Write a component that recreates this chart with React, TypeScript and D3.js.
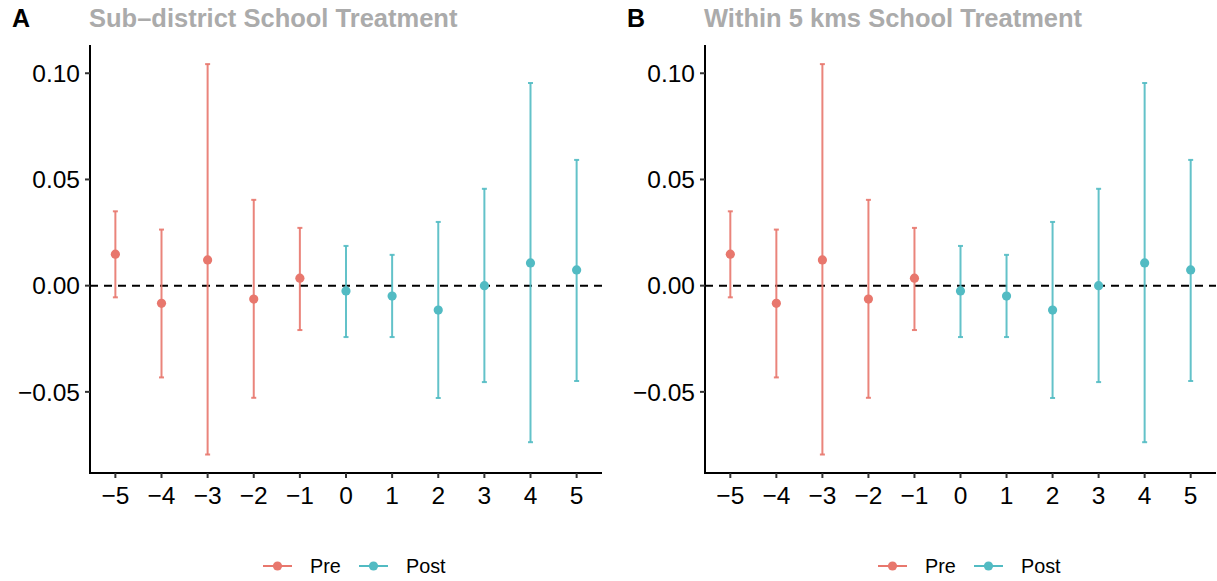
import React from "react";
import * as d3 from "d3";

// event-study estimates
const periods = [-5, -4, -3, -2, -1, 0, 1, 2, 3, 4, 5];
const estimate = [0.0148, -0.0083, 0.0121, -0.0063, 0.0035, -0.0025, -0.0049, -0.0115, 0.0, 0.0107, 0.0074];
const upper = [0.035, 0.0264, 0.1043, 0.0404, 0.0272, 0.0187, 0.0145, 0.030, 0.0456, 0.0954, 0.0592];
const lower = [-0.0055, -0.0432, -0.0795, -0.0528, -0.0209, -0.0242, -0.0242, -0.0529, -0.0454, -0.0737, -0.0449];

const panelTags = ["A", "B"];
const panelTitles = ["Sub\u2013district School Treatment", "Within 5 kms School Treatment"];
const yTicks = [-0.05, 0, 0.05, 0.1];
const groups = ["Pre", "Post"];
const colors: Record<string, string> = { Pre: "#E8776D", Post: "#52BBC3" };

const W = 1217;
const H = 581;
const font = "'Liberation Sans', Arial, Helvetica, sans-serif";

const rows = periods.map((p, i) => ({
  period: p,
  est: estimate[i],
  hi: upper[i],
  lo: lower[i],
  group: p < 0 ? "Pre" : "Post",
}));

const fmt = (v: number) => (v < 0 ? "\u2212" : "") + d3.format(".2f")(Math.abs(v));
const fmtX = (v: number) => (v < 0 ? "\u2212" : "") + Math.abs(v);

function Panel({ left, right, tag, title }: { left: number; right: number; tag: string; title: string }) {
  const x = d3.scaleLinear().domain([-5.55, 5.55]).range([left, right]);
  const y = d3.scaleLinear().domain([-0.0882, 0.1133]).range([473, 45]);
  const bottom = y.range()[0];
  const top = y.range()[1];

  return (
    <g>
      <text x={left - 78} y={27.3} fontSize={25} fontWeight="bold" fill="#000" fontFamily={font}>{tag}</text>
      <text x={left - 1} y={27} fontSize={25.5} fontWeight="bold" fill="#ABABAB" fontFamily={font}>{title}</text>

      {/* zero line */}
      <line x1={left} x2={right} y1={y(0)} y2={y(0)} stroke="#000" strokeWidth={2} strokeDasharray="8,6" />

      {/* error bars and points */}
      {rows.map((d) => (
        <g key={d.period}>
          <line x1={x(d.period)} x2={x(d.period)} y1={y(d.lo)} y2={y(d.hi)} stroke={colors[d.group]} strokeWidth={2} strokeOpacity={0.9} />
          <line x1={x(d.period) - 2.5} x2={x(d.period) + 2.5} y1={y(d.lo)} y2={y(d.lo)} stroke={colors[d.group]} strokeWidth={2} strokeOpacity={0.9} />
          <line x1={x(d.period) - 2.5} x2={x(d.period) + 2.5} y1={y(d.hi)} y2={y(d.hi)} stroke={colors[d.group]} strokeWidth={2} strokeOpacity={0.9} />
          <circle cx={x(d.period)} cy={y(d.est)} r={4.6} fill={colors[d.group]} />
        </g>
      ))}

      {/* axes */}
      <line x1={left} x2={left} y1={top} y2={bottom + 1} stroke="#000" strokeWidth={2} />
      <line x1={left - 1} x2={right} y1={bottom} y2={bottom} stroke="#000" strokeWidth={2} />
      {yTicks.map((t) => (
        <g key={t}>
          <line x1={left - 5} x2={left} y1={y(t)} y2={y(t)} stroke="#333" strokeWidth={2} />
          <text x={left - 10} y={y(t)} dy="0.36em" textAnchor="end" fontSize={24.5} fill="#000" fontFamily={font}>{fmt(t)}</text>
        </g>
      ))}
      {periods.map((p) => (
        <g key={p}>
          <line x1={x(p)} x2={x(p)} y1={bottom} y2={bottom + 5} stroke="#333" strokeWidth={2} />
          <text x={x(p)} y={503.5} textAnchor="middle" fontSize={24.5} fill="#000" fontFamily={font}>{fmtX(p)}</text>
        </g>
      ))}

      {/* legend */}
      {groups.map((g, i) => {
        const lx = left + 173 + i * 96;
        return (
          <g key={g}>
            <line x1={lx} x2={lx + 29} y1={566} y2={566} stroke={colors[g]} strokeWidth={2} />
            <circle cx={lx + 14.5} cy={566} r={4.6} fill={colors[g]} />
            <text x={lx + 47} y={566} dy="0.36em" fontSize={19.8} fill="#000" fontFamily={font}>{g}</text>
          </g>
        );
      })}
    </g>
  );
}

export default function App() {
  return (
    <svg width={W} height={H} style={{ position: "absolute", left: 0, top: 0, background: "#fff" }}>
      <rect width={W} height={H} fill="#fff" />
      <Panel left={90} right={602} tag={panelTags[0]} title={panelTitles[0]} />
      <Panel left={705} right={1216} tag={panelTags[1]} title={panelTitles[1]} />
    </svg>
  );
}
